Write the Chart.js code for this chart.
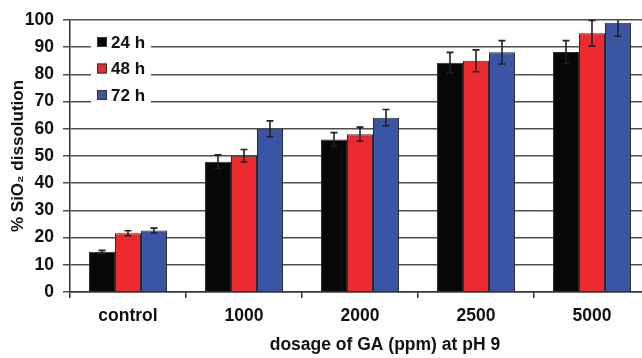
<!DOCTYPE html>
<html>
<head>
<meta charset="utf-8">
<script src="https://cdn.jsdelivr.net/npm/chart.js@4/dist/chart.umd.min.js"></script>
<style>
  body { margin: 0; background: #fff; overflow: hidden; }
  #wrap { width: 642px; height: 358px; overflow: hidden; }
</style>
</head>
<body>
<div id="wrap"><canvas id="chartDissolution" width="650" height="358"></canvas></div>
<script>
const categories = ['control', '1000', '2000', '2500', '5000'];
const seriesLabels = ['24 h', '48 h', '72 h'];
const values24 = [14.8, 47.9, 56.1, 84.3, 88.2];
const values48 = [21.6, 50.1, 58.0, 85.0, 95.1];
const values72 = [22.6, 60.0, 64.1, 88.1, 99.0];
const errors24 = [0.5, 2.5, 2.5, 3.8, 4.2];
const errors48 = [0.9, 2.3, 2.6, 4.0, 4.7];
const errors72 = [0.9, 2.9, 3.0, 4.3, 5.0];
const xTitle = 'dosage of GA (ppm) at pH 9';

const fontFamily = '"Liberation Sans", Arial, sans-serif';
const textColor = '#111';

// error bars, clipped to the plot area
const errorBars = {
  id: 'errorBars',
  afterDatasetsDraw(chart) {
    const { ctx, chartArea } = chart;
    const yScale = chart.scales.y;
    ctx.save();
    ctx.beginPath();
    ctx.rect(chartArea.left, chartArea.top, chartArea.right - chartArea.left, chartArea.bottom - chartArea.top);
    ctx.clip();
    ctx.strokeStyle = '#222';
    ctx.lineWidth = 1.6;
    chart.data.datasets.forEach((ds, i) => {
      const meta = chart.getDatasetMeta(i);
      meta.data.forEach((bar, j) => {
        const v = ds.data[j], e = ds.errors[j];
        const yTop = yScale.getPixelForValue(v + e);
        const yBot = yScale.getPixelForValue(v - e);
        ctx.beginPath();
        ctx.moveTo(bar.x, yTop); ctx.lineTo(bar.x, yBot);
        ctx.moveTo(bar.x - 3.5, yTop); ctx.lineTo(bar.x + 3.5, yTop);
        ctx.moveTo(bar.x - 3.5, yBot); ctx.lineTo(bar.x + 3.5, yBot);
        ctx.stroke();
      });
    });
    ctx.restore();
  }
};

// legend box inside the plot, upper left; x axis title a bit right of centre
const insideLegend = {
  id: 'insideLegend',
  afterDraw(chart) {
    const { ctx, chartArea } = chart;
    const x0 = chartArea.left + 21;
    const y0 = chartArea.top + 10;
    ctx.save();
    ctx.fillStyle = '#fff';
    ctx.fillRect(x0, y0, 60, 80);
    ctx.font = 'bold 17px ' + fontFamily;
    ctx.textBaseline = 'middle';
    chart.data.datasets.forEach((ds, i) => {
      const cy = y0 + 12 + i * 26.5;
      ctx.fillStyle = ds.backgroundColor;
      ctx.fillRect(x0 + 6, cy - 5, 10, 10);
      ctx.strokeStyle = '#333';
      ctx.lineWidth = 1;
      ctx.strokeRect(x0 + 6.5, cy - 4.5, 9, 9);
      ctx.fillStyle = textColor;
      ctx.fillText(ds.label, x0 + 20, cy + 1);
    });

    ctx.font = 'bold 17.5px ' + fontFamily;
    ctx.textAlign = 'center';
    ctx.fillStyle = textColor;
    const cx = chartArea.left + (chartArea.right - chartArea.left) * 0.543;
    ctx.fillText(xTitle, cx, chart.height - 13);
    ctx.restore();
  }
};

const seriesColors = ['#070707', '#ec2a30', '#3a55a4'];
const seriesValues = [values24, values48, values72];
const seriesErrors = [errors24, errors48, errors72];

new Chart(document.getElementById('chartDissolution'), {
  type: 'bar',
  data: {
    labels: categories,
    datasets: seriesLabels.map((label, i) => ({
      label: label,
      data: seriesValues[i],
      errors: seriesErrors[i],
      backgroundColor: seriesColors[i],
      borderColor: '#2a2a2a',
      borderWidth: 1,
      categoryPercentage: 0.672,
      barPercentage: 1.0
    }))
  },
  options: {
    responsive: false,
    animation: false,
    layout: { padding: { top: 20, right: 0, bottom: 0, left: 0 } },
    plugins: {
      legend: { display: false },
      tooltip: { enabled: false }
    },
    scales: {
      x: {
        afterFit: (s) => { s.height = 66; },
        grid: { display: true, drawOnChartArea: false, tickLength: 6, color: '#333', lineWidth: 1.5 },
        border: { color: '#333', width: 1.5 },
        ticks: { padding: 8, color: textColor, font: { family: fontFamily, size: 17.5, weight: 'bold' } }
      },
      y: {
        min: 0,
        max: 100,
        afterFit: (s) => { s.width = 70; },
        grid: { color: '#4e4e4e', lineWidth: 1.5, tickLength: 7 },
        border: { color: '#333', width: 1.5 },
        ticks: { stepSize: 10, padding: 9, color: textColor, font: { family: fontFamily, size: 17.5, weight: 'bold' } },
        title: {
          display: true,
          text: '% SiO\u2082 dissolution',
          color: textColor,
          padding: { top: 8, bottom: 0 },
          font: { family: fontFamily, size: 17, weight: 'bold' }
        }
      }
    }
  },
  plugins: [errorBars, insideLegend]
});
</script>
</body>
</html>
